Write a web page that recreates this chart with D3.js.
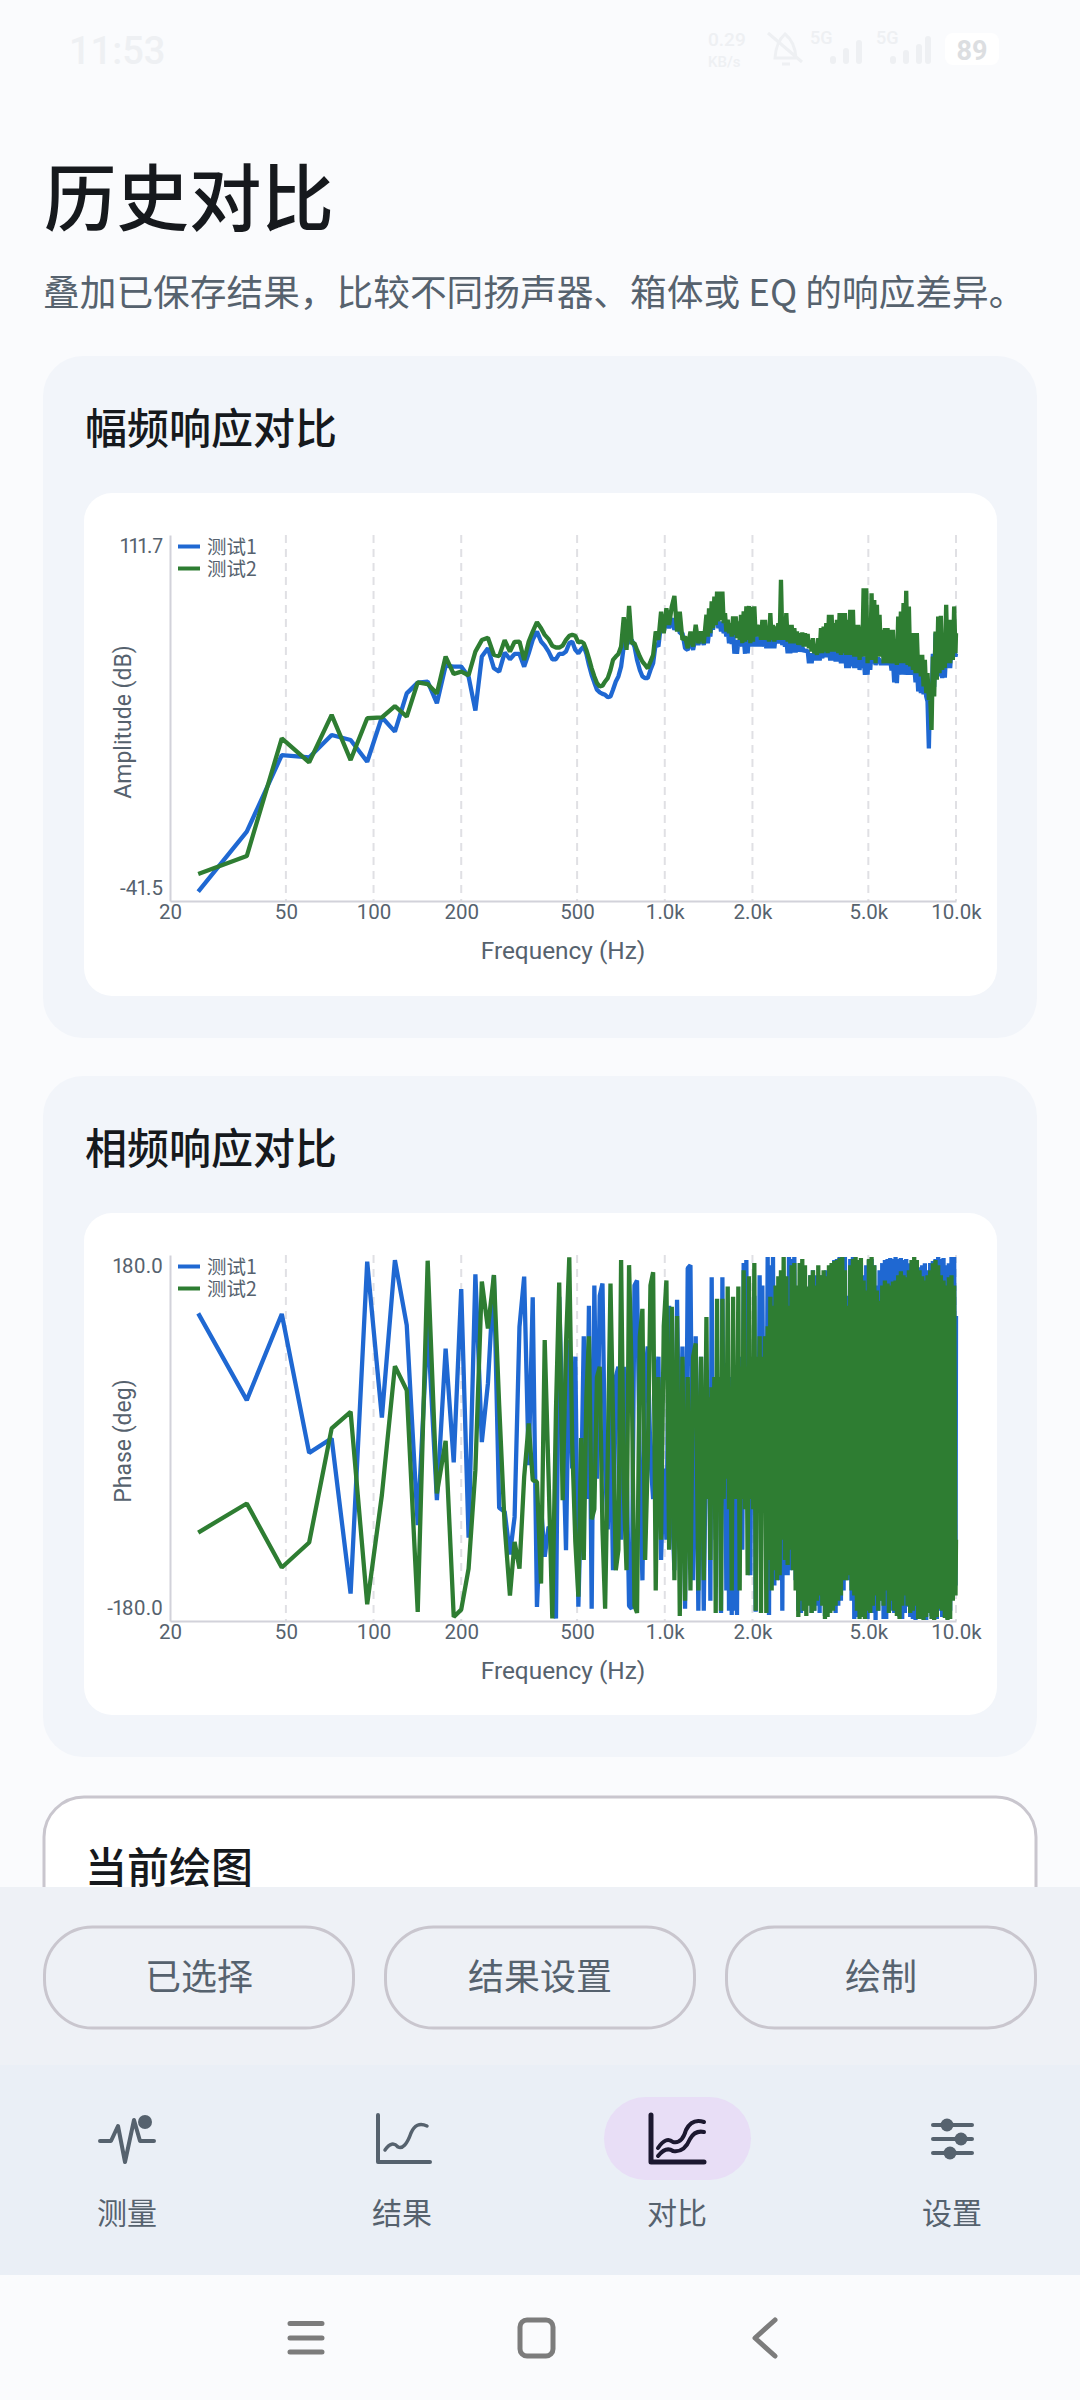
<!DOCTYPE html>
<html>
<head>
<meta charset="utf-8">
<script src="https://cdn.jsdelivr.net/npm/d3@7"></script>
<style>
  html, body { margin: 0; padding: 0; background: #fafbfd; }
  svg { display: block; }
  text { font-family: Roboto, "Noto Sans CJK SC", sans-serif; }
  .cjk { font-family: "Noto Sans CJK SC", sans-serif; }
</style>
</head>
<body>
<div id="page"></div>
<script>
// frequency of each point, Hz
const freqs = [
  25,36.7,48.4,60.1,71.8,83.4,95.1,106.8,118.4,130,
  141.8,153.4,165,176.8,188.5,200,212,223.7,235.4,247,
  259,270,282,294,305,317,329,341,352,364,
  376,387,399,411,423,434,446,458,470,481,
  493,
  505,516,527,538,549,561,573,585,598,611,
  624,637,651,664,679,693,708,723,739,754,
  770,787,803,821,838,856,874,893,912,931,
  951,971,992,1013,1035,1057,1079,1102,1126,1150,
  1174,1199,1225,1251,1277,1304,1332,1361,
  1390,1405,1419,1434,1449,1464,1480,1496,1512,1528,
  1544,1560,1577,1593,1610,1627,1645,1662,1680,1698,
  1716,1734,1752,1770,1789,1808,1827,1846,1866,1886,
  1906,1926,1946,1967,1988,2009,2030,2052,2073,2095,
  2117,2140,2163,2186,2209,2232,2256,2280,2304,2328,
  2353,2378,2403,2428,2454,2480,2506,2533,2560,2587,
  2614,2642,2670,2698,2727,2756,2785,2814,2844,2874,
  2905,2935,2966,2998,3030,3062,3094,3127,3160,3193,
  3227,3261,3296,3331,3366,3402,3438,3474,3511,3548,
  3586,3624,3662,3701,3740,3780,3820,3860,3901,3942,
  3984,4026,4069,4112,4155,4199,4244,4289,4334,4380,
  4427,4474,4521,4569,4617,4666,4715,4765,4816,4867,
  4918,4970,5023,5076,5130,5184,5239,5295,5351,5407,
  5464,5522,5581,5640,5700,5760,5821,5883,5945,6008,
  6072,6136,6201,6267,6333,6400,6468,6536,6605,6675,
  6746,6818,6890,6963,7036,7111,7186,7262,7339,7417,
  7495,7575,7655,7736,7818,7901,7984,8069,8154,8241,
  8328,8416,8505,8595,8686,8778,8871,8965,9060,9156,
  9253,9351,9450,9550,9651,9753,9856,9960,10000
];

const ampTest1 = [
  -37.6,-12.5,19.6,18.6,28,25.9,16.8,35.4,29.4,45.4,
  49.9,50.3,41.3,57,56.6,56.6,52.4,38.2,60.8,64.3,
  55.9,54.5,62.5,59.7,61.9,61.9,56.6,62.2,67.8,71.3,
  67.1,65.4,62.9,59.7,59.7,61.9,61.9,62.9,66.4,67.1,
  63.6,
  62.2,63.9,65,62,57.3,53.1,49.9,46.9,45.8,45.2,
  44.8,43.8,44.1,46.9,50.4,52.5,56.6,65,67.8,66.4,
  67.8,65,59.4,55.2,52.5,51.8,51.8,55.2,58,66.4,
  65,74.8,71.3,76.2,72.7,76.9,72,76.2,70.6,70.6,
  64.3,63.6,67.8,63.6,69.2,65.7,69.2,65.7,
  70.6,66.4, 71.3,69.2, 76.9,72, 76.9,74.8, 76.5,72.7, 75.5,71.3, 75.5,70.6, 72.7,69.2, 72.7,66.4, 71.3,66.1,
  71.3,62, 67.8,62, 67.8,65, 69.2,65, 69.2,62, 70.6,62.2, 70.6,65, 69.9,65, 69.9,65, 69.2,65,
  69.2,65, 69.2,65, 68.5,64.3, 68.5,64.3, 68.5,64.3, 68.5,64.3, 69.2,66.4, 69.2,66.4, 69.2,65.7, 67.8,65,
  67.8,62.2, 66.4,62.2, 66.4,62.5, 66.4,62.5, 66.4,62.9, 65.7,62.9, 65,62.9, 63.6,62.9, 63.6,58, 62.2,58,
  62.2,59.2, 62.2,59.2, 62.2,59.2, 62.2,60.1, 63.6,60.6, 63.6,60.6, 63.6,59.2, 64.3,59.2, 64.3,58.7, 64.3,58.7,
  64.3,58, 62.2,58, 63.6,56, 63.6,56, 62.2,56.7, 62.2,56, 63.6,56, 63.6,55.2, 62.2,56, 60.8,53.2,
  60.8,53.2, 63.6,55.2, 63.6,58, 60.8,57.3, 59.4,60, 59.4,57.3, 59.4,57.3, 59.4,57.3, 59.4,57.3, 59.4,55,
  59.4,50, 59.4,49.7, 62,53.2, 64,53.2, 66.4,53.2, 60.8,53.2, 60.8,53.2, 60.8,53.2, 56.6,50, 56.6,46.2,
  53.9,45.5, 53.9,45, 50,44.1, 42,22.4, 48,38, 62,48, 70.6,52, 62.2,52.5, 62.2,51.8, 63.6,52,
  63.6,56, 65,56, 65,60.8, 65,60.8, 62
];

const ampTest2 = [
  -30.2,-22.7,26.6,16.5,36.4,17.5,35,35.4,40.1,35.7,
  50,49.3,45.4,60.8,53.5,54.5,53,62.9,67.7,68.7,
  61.5,61,67.7,62.9,67,67.1,59.4,67.1,71.3,75.2,
  72.7,69.9,68.1,65.3,64.6,64.6,65.4,67.8,69.5,69.9,
  69.5,
  66.7,67.1,66.4,63.6,60.1,55.9,52.5,49.7,48.3,48.6,
  50.4,51.8,55.2,59.4,60.8,61.9,65,77.3,63.6,82,
  66.4,66.4,63.6,60.8,58.7,57.3,55.9,58.7,61.5,71.3,
  67.8,79.6,70.6,81,74.1,81.8,86.2,71.3,79.6,67.8,
  69.2,64.3,71.3,65,74.1,66.4,71.3,66.4,
  78.3,69.2, 81,70.6, 83.9,72.7, 85.9,74.1, 88,75.5, 88,76.2, 88,74.8, 79,71.3, 76.2,70.6, 74.8,69.2,
  77.6,69.9, 77.6,68.5, 75.5,67.8, 78.3,66.4, 79.7,67.1, 81.8,67.8, 82,66.4, 81.5,67.1, 81.8,69.2, 74.1,69.2,
  74.1,67.8, 76.2,67.8, 76.2,67.8, 72.7,67.1, 79,67.8, 74.1,67.1, 73.4,67.8, 74.8,67.8, 92.9,67.8, 74.1,67.8,
  79,67.1, 74.1,66.4, 74.1,66.4, 72.7,66.4, 71.3,65.7, 70.6,65.7, 70.9,65, 70.6,65, 70.3,64.3, 67.8,62.9,
  68.5,62.2, 65,61.5, 68.5,62.2, 72.7,62.2, 73.4,62.9, 74.8,62.2, 78.3,62.9, 78.3,62.9, 74.8,62.9, 76.2,62.2,
  79,61.5, 79,62.2, 79,61.5, 76.2,61.5, 80.4,61.5, 80.4,60.8, 74.1,60.8, 74.1,59.4, 73.4,60.8, 89.4,60.8,
  89.4,58, 73.4,59.4, 87.3,59.4, 84.5,58, 82.5,60.8, 78.3,60.8, 72,58, 72.7,58, 72.7,58, 72,58,
  72,58, 66.4,57.3, 77.6,58, 79.7,58, 83.2,58, 88.3,57.3, 81.8,56.7, 70.6,55.2, 70.6,53.9, 70.6,53.9,
  61.5,52.5, 61.5,48.3, 59.4,45.5, 53.9,42.7, 44.1,30.1, 60.8,44.1, 71.3,51.1, 77.6,53.9, 77.9,55.2, 65,56,
  82.5,58, 76.2,58, 76.2,59.4, 81.8,62.2, 70.6
];

const phaseTest1 = [
  122.6,37.3,122,-14.6,-0.4,-153,173.4,20.2,175,111,
  -85.8,112,-61,88,-24,146.5,-98,161,-4,53.7,
  160,-68.7,-72.6,-114.6,-77.6,109.5,158.7,-26.7,138.3,-166.1,
  -67.7,-116.9,-87.4,-90.7,-177.6,139,11,-110.4,96.3,-30,
  80,
  -166,-60,100,-60,130,-168,150,-40,140,152,
  -30,-90,30,-130,60,70,-100,70,-20,-165,
  -168,150,155,-30,-140,60,90,-20,-60,40,
  80,-120,-30,-100,130,-60,-130,136,-60,90,
  -168,167,170,-140,100,-170,80,-170,
  40,-60, 50,-160, 158,-60, 50,-100, 60,-60, 60,-172, 158,-60, 60,-150, 70,-170, 60,-174,
  70,-170, 60,-174, 70,-60, 80,-110, 172,-60, 175,-60, 80,-135, 70,-60, 140,-171, 70,-60,
  160,-30, 150,-40, 100,-60, 178,-174, 170,-130, 178,-145, 130,-120, 140,-140, 120,-170, 120,-135,
  100,-135, 178,-130, 176,-120, 178,-140, 140,-170, 130,-172, 160,-170, 150,-140, 120,-160, 160,-172,
  165,-170, 160,-165, 150,-172, 160,-160, 150,-175, 165,-170, 165,-165, 170,-168, 175,-172, 176,-165,
  178,-160, 176,-150, 178,-140, 140,-140, 176,-160, 178,-178, 170,-176, 165,-172, 172,-170, 160,-176,
  170,-178, 175,-168, 176,-172, 170,-179, 150,-170, 165,-160, 172,-178, 175,-178, 176,-160, 177,-170,
  176,-172, 178,-165, 176,-176, 177,-178, 175,-172, 176,-166, 172,-176, 170,-178, 165,-179, 160,-178,
  168,-176, 170,-178, 172,-179, 165,-170, 172,-175, 174,-176, 176,-178, 178,-170, 176,-176, 177,-172,
  170,-178, 172,-170, 178,-150, 178,-145, 120
];

const phaseTest2 = [
  -93,-64.4,-127.4,-102.8,9.4,25.8,-163.5,-56.2,70.7,47,
  -171,174.4,-54.6,-2.8,-176,-168.8,-128.4,-31.6,153.8,107.8,
  160.3,32.4,-87,-155,-102.2,-128.4,-38.2,14.3,-41.5,-43,
  -143.2,96.3,-38,-177.6,27.4,152.8,-61.2,93,177.7,-5.4,
  -102,
  -156,0,-120,40,100,-80,-70,60,70,-90,
  -168,-20,152,20,-130,-110,175,-50,-130,170,
  60,-165,-172,100,127,-120,-20,150,163,-150,
  60,-100,110,155,-110,129,-140,120,-175,80,
  -160,60,-150,80,93,-150,80,-140,
  119,-60, 40,-120, 50,-60, 60,-172, 137,-60, 60,-170, 137,-60, 50,-40, 149,-70, 50,-150,
  139,-60, 60,-60, 149,-150, 70,-60, 165,-70, 70,-135, 159,-60, 80,-70, 172,-170, 80,-60,
  100,-172, 80,-60, 100,-172, 110,-120, 139,-150, 130,-130, 150,-140, 159,-135, 165,-100, 178,-120,
  159,-125, 130,-110, 170,-130, 172,-150, 150,-176, 172,-160, 176,-170, 170,-175, 149,-165, 160,-172,
  165,-170, 150,-160, 170,-155, 160,-165, 165,-178, 159,-176, 170,-172, 172,-170, 174,-165, 175,-160,
  177,-155, 178,-140, 165,-140, 130,-135, 170,-150, 176,-155, 178,-170, 175,-178, 177,-176, 155,-178,
  145,-170, 176,-172, 178,-165, 170,-155, 145,-170, 135,-160, 150,-165, 155,-150, 152,-172, 150,-160,
  154,-170, 155,-175, 160,-178, 164,-165, 160,-155, 158,-165, 165,-172, 175,-170, 178,-165, 175,-178,
  165,-178, 159,-179, 155,-176, 160,-172, 165,-178, 172,-179, 175,-176, 170,-168, 160,-170, 155,-177,
  150,-179, 158,-178, 160,-160, 150,-155, -100
];

const freqTicks = [20, 50, 100, 200, 500, 1000, 2000, 5000, 10000];
const freqTickLabels = ["20", "50", "100", "200", "500", "1.0k", "2.0k", "5.0k", "10.0k"];
const ampRange = [-41.5, 111.7];
const phaseRange = [-180, 180];
const seriesNames = ["测试1", "测试2"];
const seriesColors = ["#1f68d2", "#2e7d32"];
const actions = ["已选择", "结果设置", "绘制"];
const navLabels = ["测量", "结果", "对比", "设置"];

const INK = "#16191d", MUTED = "#56626e", AXIS = "#d2d2da";

const svg = d3.select("#page").append("svg")
    .attr("width", 1080).attr("height", 2400)
    .attr("viewBox", "0 0 1080 2400");

svg.append("rect").attr("width", 1080).attr("height", 2400).attr("fill", "#fafbfd");

function label(parent, x, y, str, size, fill, opts = {}) {
  return parent.append("text")
      .attr("class", opts.latin ? null : "cjk")
      .attr("x", x).attr("y", y)
      .attr("dy", "0.36em")
      .attr("text-anchor", opts.anchor || "start")
      .attr("font-size", size)
      .attr("font-weight", opts.weight || 400)
      .attr("fill", fill)
      .text(str);
}

function statusBar() {
  const c = "#eef0f3";
  label(svg, 69, 50, "11:53", 38, c, {latin: true, weight: 500});
  label(svg, 708, 39, "0.29", 19, c, {latin: true, weight: 500});
  label(svg, 708, 62, "KB/s", 15, c, {latin: true, weight: 500});
  svg.append("path")
      .attr("d", "M768 33 L802 62 M775 58 Q776 42 785 34 Q795 42 796 58 Z M782 64 h8")
      .attr("fill", "none").attr("stroke", c).attr("stroke-width", 3);
  [[810, 38], [876, 38]].forEach(([x, y]) => {
    label(svg, x, y, "5G", 18, c, {latin: true, weight: 500});
  });
  [[830, 56, 8], [843, 48, 16], [856, 40, 24]].forEach(d => {
    svg.append("rect").attr("x", d[0]).attr("y", d[1]).attr("width", 6).attr("height", d[2]).attr("rx", 3).attr("fill", c);
  });
  [[890, 56, 8], [903, 50, 14], [916, 44, 20], [925, 36, 28]].forEach(d => {
    svg.append("rect").attr("x", d[0]).attr("y", d[1]).attr("width", 6).attr("height", d[2]).attr("rx", 3).attr("fill", c);
  });
  svg.append("rect").attr("x", 945).attr("y", 33).attr("width", 54).attr("height", 32).attr("rx", 8).attr("fill", "#ffffff");
  label(svg, 972, 50, "89", 27, "#dcdee1", {latin: true, anchor: "middle", weight: 700});
}

function drawChart({cardTop, cardBottom, title, panelTop, panelBottom, plotTop, plotBottom, yDomain, yTicks, yFormat, yTitle, titleShift, series}) {
  svg.append("rect").attr("x", 43).attr("y", cardTop).attr("width", 994).attr("height", cardBottom - cardTop)
      .attr("rx", 40).attr("fill", "#f2f5fa");
  label(svg, 85, cardTop + 73, title, 42, INK, {weight: 500});
  svg.append("rect").attr("x", 84).attr("y", panelTop).attr("width", 913).attr("height", panelBottom - panelTop)
      .attr("rx", 28).attr("fill", "#ffffff");

  const x = d3.scaleLog().domain([20, 10000]).range([170, 956]);
  const y = d3.scaleLinear().domain(yDomain).range([plotBottom, plotTop]);

  // dashed verticals
  svg.append("g").selectAll("line").data(freqTicks.slice(1)).join("line")
      .attr("x1", d => x(d)).attr("x2", d => x(d))
      .attr("y1", plotTop).attr("y2", plotBottom)
      .attr("stroke", "#e0e0e4").attr("stroke-width", 2).attr("stroke-dasharray", "8,6");

  const xAxis = d3.axisBottom(x).tickValues(freqTicks)
      .tickFormat((d, i) => freqTickLabels[i]).tickSize(0).tickPadding(3);
  const gx = svg.append("g").attr("transform", `translate(0,${plotBottom})`).call(xAxis);
  gx.select(".domain").attr("stroke", AXIS).attr("stroke-width", 2);
  gx.selectAll("text").attr("font-size", 20.5).attr("fill", MUTED).attr("font-family", "Roboto");

  const yAxis = d3.axisLeft(y).tickValues(yTicks).tickFormat(yFormat).tickSize(0).tickPadding(7);
  const gy = svg.append("g").attr("transform", "translate(170,0)").call(yAxis);
  gy.select(".domain").attr("stroke", AXIS).attr("stroke-width", 2);
  // the end labels sit just inside the plot height
  gy.selectAll("text").attr("font-size", 20.5).attr("fill", MUTED).attr("font-family", "Roboto")
      .style("font-variant-numeric", "proportional-nums")
      .attr("dy", (d, i) => i === 0 ? "0.86em" : "-0.31em");

  label(svg, 563, plotBottom + 49, "Frequency (Hz)", 24.4, MUTED, {latin: true, anchor: "middle"});
  svg.append("text")
      .attr("transform", `translate(123,${(plotTop + plotBottom) / 2 + titleShift}) rotate(-90)`)
      .attr("dy", "0.36em").attr("text-anchor", "middle")
      .attr("font-size", 23).attr("fill", MUTED).text(yTitle);

  const line = d3.line().x(d => x(d[0])).y(d => y(d[1]));
  svg.append("g").selectAll("path").data(series).join("path")
      .attr("d", vals => line(d3.zip(freqs, vals)))
      .attr("fill", "none")
      .attr("stroke", (d, i) => seriesColors[i])
      .attr("stroke-width", 4.3)
      .attr("stroke-linejoin", "bevel");

  // legend
  const lg = svg.append("g").selectAll("g").data(seriesNames).join("g")
      .attr("transform", (d, i) => `translate(178,${plotTop + 11.5 + i * 22})`);
  lg.append("line").attr("x2", 22).attr("stroke", (d, i) => seriesColors[i]).attr("stroke-width", 4);
  lg.append("text").attr("class", "cjk").attr("x", 29).attr("dy", "0.36em")
      .attr("font-size", 19.5).attr("fill", MUTED).text(d => d);
}

function navIcon(i, g) {
  const dark = i === 2 ? "#1c1830" : MUTED;
  const stroke = (d, w = 4) => g.append("path").attr("d", d).attr("fill", "none")
      .attr("stroke", dark).attr("stroke-width", w).attr("stroke-linecap", "round").attr("stroke-linejoin", "round");
  if (i === 0) {
    stroke("M100 2141 H111 L118 2126 L125 2162 L134 2120 L140 2141 H154");
    g.append("circle").attr("cx", 145).attr("cy", 2122).attr("r", 7).attr("fill", dark);
  } else if (i === 1) {
    stroke("M378 2115 V2162 H430");
    stroke("M385 2150 Q392 2140 398 2147 Q405 2150 411 2133 Q416 2121 427 2126", 3.5);
  } else if (i === 2) {
    stroke("M651 2115 V2162 H704", 5);
    stroke("M658 2148 Q666 2136 673 2142 Q682 2144 686 2130 Q692 2118 704 2122", 4);
    stroke("M658 2156 Q666 2146 673 2151 Q684 2153 690 2139 Q695 2130 704 2132", 4);
  } else {
    [[2125, 947], [2139, 961], [2153, 950]].forEach(([yy, kx]) => {
      stroke(`M933 ${yy} H972`, 4);
      g.append("circle").attr("cx", kx).attr("cy", yy).attr("r", 6.5).attr("fill", dark);
    });
  }
}

function bottomBars() {
  // outlined card, cut off by the action bar
  svg.append("rect").attr("x", 44).attr("y", 1797).attr("width", 992).attr("height", 160)
      .attr("rx", 40).attr("fill", "#ffffff").attr("stroke", "#c9c6ce").attr("stroke-width", 3);
  label(svg, 85, 1868, "当前绘图", 42, INK, {weight: 500});

  svg.append("rect").attr("y", 1887).attr("width", 1080).attr("height", 178).attr("fill", "#eef1f6");
  const btnX = d3.scaleBand().domain(actions).range([43, 1037]).paddingInner(0.085);
  const btn = svg.append("g").selectAll("g").data(actions).join("g");
  btn.append("rect")
      .attr("x", d => btnX(d) + 1.5).attr("y", 1927).attr("width", btnX.bandwidth() - 3).attr("height", 101)
      .attr("rx", 48).attr("fill", "none").attr("stroke", "#c9c6ce").attr("stroke-width", 3);
  btn.append("text").attr("class", "cjk")
      .attr("x", d => btnX(d) + btnX.bandwidth() / 2).attr("y", 1977).attr("dy", "0.36em")
      .attr("text-anchor", "middle").attr("font-size", 36).attr("fill", MUTED).text(d => d);

  svg.append("rect").attr("y", 2065).attr("width", 1080).attr("height", 210).attr("fill", "#eaeff6");
  svg.append("rect").attr("x", 604).attr("y", 2097).attr("width", 147).attr("height", 83).attr("rx", 41.5).attr("fill", "#e8def6");
  const navX = d3.scalePoint().domain(navLabels).range([127, 952]);
  navLabels.forEach((d, i) => {
    navIcon(i, svg.append("g"));
    label(svg, navX(d), 2213, d, 30, MUTED, {anchor: "middle"});
  });

  // phone buttons
  const sys = svg.append("g").attr("fill", "none").attr("stroke", "#7c7c7c").attr("stroke-width", 5).attr("stroke-linecap", "round").attr("stroke-linejoin", "round");
  sys.append("path").attr("d", "M290 2323.5 H322 M290 2338 H322 M290 2352 H322");
  sys.append("rect").attr("x", 520).attr("y", 2320).attr("width", 33).attr("height", 36).attr("rx", 7);
  sys.append("path").attr("d", "M775 2320 L755 2338 L775 2356");
}

statusBar();
label(svg, 44, 199, "历史对比", 72.5, INK, {weight: 500});
label(svg, 43, 293, "叠加已保存结果，比较不同扬声器、箱体或 EQ 的响应差异。", 36.7, MUTED);

drawChart({
  cardTop: 356, cardBottom: 1038, title: "幅频响应对比",
  panelTop: 493, panelBottom: 996, plotTop: 535, plotBottom: 901,
  yDomain: ampRange, yTicks: [ampRange[1], ampRange[0]], yFormat: d => d.toFixed(1),
  yTitle: "Amplitude (dB)", titleShift: 4, series: [ampTest1, ampTest2]
});
drawChart({
  cardTop: 1076, cardBottom: 1757, title: "相频响应对比",
  panelTop: 1213, panelBottom: 1715, plotTop: 1255, plotBottom: 1621,
  yDomain: phaseRange, yTicks: [phaseRange[1], phaseRange[0]], yFormat: d => d.toFixed(1),
  yTitle: "Phase (deg)", titleShift: 3, series: [phaseTest1, phaseTest2]
});
bottomBars();
</script>
</body>
</html>
